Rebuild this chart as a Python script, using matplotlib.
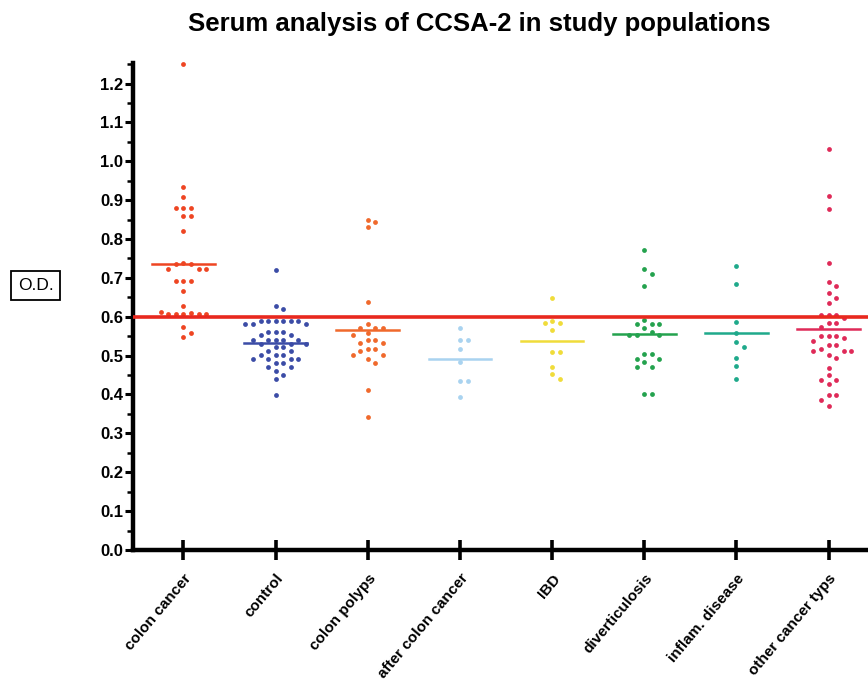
import matplotlib
matplotlib.use("Agg")
import matplotlib.pyplot as plt
import numpy as np
from matplotlib.ticker import MultipleLocator

plt.rcParams['font.family'] = ['Liberation Sans', 'DejaVu Sans']

groups = ['colon cancer', 'control', 'colon polyps', 'after colon cancer',
          'IBD', 'diverticulosis', 'inflam. disease', 'other cancer typs']

colon_cancer = [1.251, 0.934, 0.908, 0.881, 0.881, 0.881, 0.860, 0.860, 0.821,
                0.737, 0.735, 0.735, 0.723, 0.723, 0.723, 0.692, 0.692, 0.692,
                0.667, 0.627, 0.610, 0.608, 0.608, 0.608, 0.608, 0.608, 0.612,
                0.574, 0.559, 0.548]
control = [0.720, 0.628, 0.620, 0.589, 0.589, 0.589, 0.589, 0.589, 0.589,
           0.581, 0.581, 0.581, 0.561, 0.561, 0.561, 0.553, 0.553,
           0.540, 0.540, 0.540, 0.540, 0.540, 0.530, 0.530, 0.530,
           0.521, 0.521, 0.512, 0.512, 0.501, 0.501, 0.501,
           0.491, 0.491, 0.491, 0.491, 0.481, 0.481, 0.470, 0.470,
           0.460, 0.450, 0.441, 0.398]
colon_polyps = [0.848, 0.844, 0.830, 0.638, 0.581, 0.570, 0.570, 0.570, 0.559,
                0.553, 0.540, 0.540, 0.533, 0.533, 0.518, 0.518, 0.512,
                0.501, 0.501, 0.490, 0.482, 0.411, 0.341]
after_colon = [0.570, 0.540, 0.540, 0.517, 0.484, 0.435, 0.435, 0.393]
ibd = [0.647, 0.589, 0.584, 0.584, 0.566, 0.510, 0.510, 0.470, 0.452, 0.439]
diverticulosis = [0.771, 0.722, 0.710, 0.680, 0.591, 0.581, 0.581, 0.581, 0.570,
                  0.561, 0.553, 0.553, 0.553, 0.503, 0.503, 0.491, 0.491,
                  0.484, 0.471, 0.471, 0.400, 0.400]
inflam = [0.730, 0.683, 0.587, 0.559, 0.536, 0.523, 0.494, 0.473, 0.440]
other_cancer = [1.031, 0.911, 0.878, 0.737, 0.690, 0.680, 0.662, 0.647, 0.636,
                0.604, 0.604, 0.604, 0.597, 0.584, 0.584, 0.574,
                0.551, 0.551, 0.551, 0.544, 0.538, 0.527, 0.527, 0.518,
                0.512, 0.512, 0.512, 0.501, 0.493, 0.469, 0.450,
                0.437, 0.437, 0.428, 0.398, 0.398, 0.387, 0.370]

group_means = [0.735, 0.533, 0.567, 0.490, 0.538, 0.555, 0.557, 0.569]
cutoff = 0.6

colors = ['#EE4522', '#3B4CA6', '#F0692C', '#A9D3F0',
          '#F0DC3A', '#24A24E', '#1FA98B', '#DF2A58']

all_data = [colon_cancer, control, colon_polyps, after_colon, ibd,
            diverticulosis, inflam, other_cancer]

PX_X = 91.7   # pixels per category
PX_Y = 389.0  # pixels per unit of O.D.
STEP = 0.082
DIAM = 6.8


def swarm(values):
    # simple beeswarm: put each point at the nearest free slot
    placed = []
    offs = []
    for v in values:
        k = 0
        while True:
            cands = [0.0] if k == 0 else [k * STEP, -k * STEP]
            done = False
            for c in cands:
                ok = True
                for (px, py) in placed:
                    d = np.hypot((px - c) * PX_X, (py - v) * PX_Y)
                    if d < DIAM:
                        ok = False
                        break
                if ok:
                    placed.append((c, v))
                    offs.append(c)
                    done = True
                    break
            if done:
                break
            k += 1
    return np.array(offs)


fig = plt.figure(figsize=(8.68, 6.84), dpi=100)
ax = fig.add_axes([0.153, 0.196, 0.86, 0.712])

for i, vals in enumerate(all_data):
    vals = np.array(vals)
    xo = swarm(vals)
    ax.scatter(i + xo, vals, s=12, color=colors[i], zorder=3, linewidths=0,
               clip_on=False)
    ax.plot([i - 0.34, i + 0.34], [group_means[i]] * 2, color=colors[i],
            lw=1.8, zorder=4)

ax.axhline(cutoff, color='#E8281E', lw=2.6, zorder=5)

ax.set_xlim(-0.55, 7.55)
ax.set_ylim(0, 1.253)
ax.spines['top'].set_visible(False)
ax.spines['right'].set_visible(False)
ax.spines['left'].set_linewidth(3.2)
ax.spines['bottom'].set_linewidth(3.2)

ax.yaxis.set_minor_locator(MultipleLocator(0.05))
ax.set_yticks(np.arange(0, 1.25, 0.1))
ax.set_yticklabels(['%.1f' % t for t in np.arange(0, 1.25, 0.1)],
                   fontsize=12, fontweight='bold')
ax.tick_params(axis='y', which='major', length=6, width=2.2, pad=1)
ax.tick_params(axis='y', which='minor', length=4, width=1.8)

ax.set_xticks(range(len(groups)))
ax.set_xticklabels(groups, rotation=50, ha='right', rotation_mode='anchor',
                   fontsize=11, fontweight='bold')
ax.tick_params(axis='x', direction='inout', length=15, width=2.6, pad=8)

fig.text(0.552, 0.965, 'Serum analysis of CCSA-2 in study populations',
         ha='center', va='center', fontsize=18.5, fontweight='bold')
fig.text(0.041, 0.582, 'O.D.', ha='center', va='center', fontsize=12.5,
         bbox=dict(boxstyle='square,pad=0.4', fc='white', ec='black', lw=1.3))

fig.savefig('out.png', dpi=100)
